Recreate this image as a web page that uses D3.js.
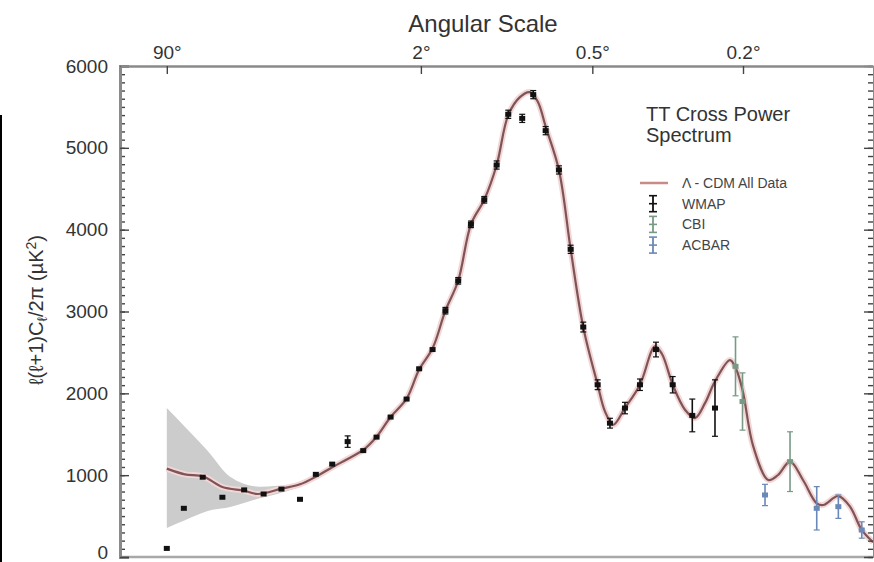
<!DOCTYPE html>
<html>
<head>
<meta charset="utf-8">
<script src="https://cdn.jsdelivr.net/npm/d3@7"></script>
<style>
body { margin: 0; background: #fff; }
svg { display: block; font-family: "Liberation Sans", Arial, sans-serif; }
</style>
</head>
<body>
<div id="grafico"></div>
<script>
// top axis: angular scale (degrees), placed at multipole l = 180 / angle
var angleDegrees = [90, 2, 0.5, 0.2];
var angleLabels = ["90°", "2°", "0.5°", "0.2°"];
var yTicks = [0, 1000, 2000, 3000, 4000, 5000, 6000];

// WMAP binned points (multipole l, l(l+1)Cl/2pi, error)
var wmapL = [2, 3, 4.5, 6.6, 9.7, 13.3, 17.4, 22.6, 27.9, 34.3, 41.3, 49.4, 57.2, 66.4, 78.2, 88.5,
    100.6, 113.3, 127.1, 142.1, 159.1, 176.3, 193.6, 216.1, 235.2, 258.2, 284.6, 309.6, 338.2,
    373.3, 405.4, 447.3, 492.3, 544.0, 602.3, 676.4, 770.6];
var wmapV = [105, 595, 975, 730, 820, 770, 830, 705, 1010, 1135, 1410, 1300, 1465, 1710, 1930, 2300,
    2535, 3010, 3375, 4065, 4365, 4790, 5410, 5360, 5650, 5210, 4730, 3760, 2810,
    2105, 1635, 1820, 2105, 2535, 2105, 1730, 1820];
var wmapErr = [0, 0, 0, 0, 0, 0, 0, 0, 0, 0, 70, 0, 0, 0, 0, 0,
    0, 40, 40, 40, 40, 50, 50, 50, 50, 50, 50, 50, 60,
    60, 60, 70, 70, 90, 100, 200, 345];

var cbiL = [863.9, 897.6, 1153];
var cbiV = [2330, 1900, 1165];
var cbiErr = [360, 350, 365];

var acbarL = [1012.6, 1318.5, 1465, 1637];
var acbarV = [758, 595, 615, 330];
var acbarErr = [130, 265, 143, 100];

// Lambda-CDM model curve
var modelL = [2, 3.07, 4.53, 6.6, 9.7, 12.1, 17.4, 22.6, 27.9, 34.3, 41.3, 49.4, 57.2, 66.4, 78.2,
    88.5, 100.6, 113.3, 127.1, 142.1, 159.1, 176.3, 193.6, 212.3, 229.3, 243.7, 258.2, 284.6,
    309.6, 338.2, 373.3, 392.1, 414.3, 447.3, 492.3, 540.7, 564.5, 602.3, 648, 687.1, 728,
    770.6, 838.1, 866.2, 898.5, 951.5, 1030.3, 1083.9, 1153, 1231.5, 1318.5, 1362, 1465,
    1549.3, 1637.1, 1725.4];
var modelV = [1080, 1010, 985, 855, 810, 770, 835, 888, 981, 1096, 1198, 1308, 1470, 1711, 1935,
    2290, 2550, 3010, 3376, 4065, 4365, 4790, 5400, 5620, 5680, 5560, 5260, 4730,
    3760, 2808, 2106, 1780, 1616, 1821, 2106, 2575, 2480, 2106, 1800, 1698, 1880,
    2146, 2407, 2300, 2030, 1348, 941, 1002, 1165, 941, 656, 635, 745,
    615, 330, 180];

// cosmic variance band at low l
var bandL = [2, 3.07, 4.9, 7.6, 12.5, 16.3, 22.6, 27.9];
var bandHi = [1820, 1593, 1308, 981, 859, 870, 905, 995];
var bandLo = [355, 450, 560, 611, 717, 770, 860, 965];

var colors = {model: "#7e5457", halo: "#f3d6d6", wmap: "#111111", cbi: "#789a85", acbar: "#6a88b8"};

var width = 874,
    height = 562;
var plotLeft = 120, plotRight = 873, plotTop = 66, plotBottom = 557;

var x = d3.scalePow().exponent(0.25).domain([0.5, 1725]).range([plotLeft, plotRight]);
var y = d3.scaleLinear().domain([0, 6000]).range([plotBottom, plotTop]);

var svg = d3.select("#grafico").append("svg")
    .attr("width", width)
    .attr("height", height);

svg.append("clipPath").attr("id", "plot")
    .append("rect")
    .attr("x", plotLeft).attr("y", plotTop)
    .attr("width", plotRight - plotLeft).attr("height", plotBottom - plotTop + 3);

var plot = svg.append("g").attr("clip-path", "url(#plot)");

// grey band
var band = bandL.map(function(l, i) { return {l: l, hi: bandHi[i], lo: bandLo[i]} });
plot.append("path")
    .datum(band)
    .attr("fill", "#cccccc")
    .attr("d", d3.area()
        .x(function(d) { return x(d.l) })
        .y0(function(d) { return y(d.lo) })
        .y1(function(d) { return y(d.hi) })
        .curve(d3.curveMonotoneX));

// model line
var model = modelL.map(function(l, i) { return {l: l, v: modelV[i]} });
var line = d3.line()
    .x(function(d) { return x(d.l) })
    .y(function(d) { return y(d.v) })
    .curve(d3.curveCatmullRom.alpha(0.5));

plot.append("path").datum(model)
    .attr("fill", "none").attr("stroke", colors.halo).attr("stroke-width", 6)
    .attr("d", line);
plot.append("path").datum(model)
    .attr("fill", "none").attr("stroke", colors.model).attr("stroke-width", 2.2)
    .attr("d", line);

// error bar points
function drawPoints(L, V, E, color) {
    var data = L.map(function(l, i) { return {l: l, v: V[i], e: E[i]} });
    var g = plot.append("g");
    var pts = g.selectAll("g").data(data).enter().append("g");
    pts.filter(function(d) { return d.e > 0 })
        .append("line")
        .attr("x1", function(d) { return x(d.l) })
        .attr("x2", function(d) { return x(d.l) })
        .attr("y1", function(d) { return y(d.v - d.e) })
        .attr("y2", function(d) { return y(d.v + d.e) })
        .attr("stroke", color).attr("stroke-width", 1.6);
    [-1, 1].forEach(function(s) {
        pts.filter(function(d) { return d.e > 0 })
            .append("line")
            .attr("x1", function(d) { return x(d.l) - 3 })
            .attr("x2", function(d) { return x(d.l) + 3 })
            .attr("y1", function(d) { return y(d.v + s * d.e) })
            .attr("y2", function(d) { return y(d.v + s * d.e) })
            .attr("stroke", color).attr("stroke-width", 1.2);
    });
    pts.append("rect")
        .attr("x", function(d) { return x(d.l) - 3 })
        .attr("y", function(d) { return y(d.v) - 2.5 })
        .attr("width", 6).attr("height", 5)
        .attr("fill", color);
}
drawPoints(cbiL, cbiV, cbiErr, colors.cbi);
drawPoints(acbarL, acbarV, acbarErr, colors.acbar);
drawPoints(wmapL, wmapV, wmapErr, colors.wmap);

// axes
function styleAxis(g, w) {
    g.select(".domain").attr("stroke", "#8a8a8a").attr("stroke-width", w);
    g.selectAll(".tick line").attr("stroke", "#444").attr("stroke-width", 1.4);
    g.selectAll(".tick text").attr("font-size", 19).attr("fill", "#333")
        .attr("font-family", "Liberation Sans, Arial, sans-serif");
}

svg.append("line")
    .attr("x1", plotLeft).attr("x2", plotRight)
    .attr("y1", y(0)).attr("y2", y(0))
    .attr("stroke", "#a8a8a8").attr("stroke-width", 2.5);

var minor = d3.range(0, 6001, 100);
svg.append("g").attr("transform", "translate(" + plotLeft + ",0)")
    .call(d3.axisLeft(y).tickValues(minor).tickSize(-5).tickFormat(""))
    .call(styleAxis, 3);
var yAxisG = svg.append("g").attr("transform", "translate(" + plotLeft + ",0)")
    .call(d3.axisLeft(y).tickValues(yTicks).tickSize(-9).tickPadding(12).tickFormat(d3.format("d")))
    .call(styleAxis, 3);
// keep the bottom label inside the picture
yAxisG.selectAll(".tick text").filter(function(d) { return d === 0 }).attr("dy", "0.1em");

svg.append("g").attr("transform", "translate(" + plotRight + ",0)")
    .call(d3.axisRight(y).tickValues(minor).tickSize(-5).tickFormat(""))
    .call(styleAxis, 1);
svg.append("g").attr("transform", "translate(" + plotRight + ",0)")
    .call(d3.axisRight(y).tickValues(yTicks).tickSize(-9).tickFormat(""))
    .call(styleAxis, 1);

svg.append("g").attr("transform", "translate(0," + plotTop + ")")
    .call(d3.axisTop(x)
        .tickValues(angleDegrees.map(function(a) { return 180 / a }))
        .tickFormat(function(d, i) { return angleLabels[i] })
        .tickSizeInner(-8).tickSizeOuter(0).tickPadding(7))
    .call(styleAxis, 2.5);

// titles
svg.append("text")
    .attr("x", 483).attr("y", 32)
    .attr("text-anchor", "middle")
    .attr("font-size", 24).attr("fill", "#333")
    .text("Angular Scale");

var ylab = svg.append("text")
    .attr("transform", "translate(43,310) rotate(-90)")
    .attr("text-anchor", "middle")
    .attr("font-size", 20).attr("fill", "#333");
ylab.append("tspan").text("ℓ(ℓ+1)C");
ylab.append("tspan").attr("dy", 4).attr("font-size", 14).text("ℓ");
ylab.append("tspan").attr("dy", -4).text("/2π (µK");
ylab.append("tspan").attr("dy", -7).attr("font-size", 14).text("2");
ylab.append("tspan").attr("dy", 7).text(")");

// legend
var legend = svg.append("g").attr("transform", "translate(646,0)");
legend.append("text").attr("x", 0).attr("y", 121).attr("font-size", 20).attr("fill", "#333").text("TT Cross Power");
legend.append("text").attr("x", 0).attr("y", 142).attr("font-size", 20).attr("fill", "#333").text("Spectrum");

var legendItems = [
    {name: "Λ - CDM All Data", color: colors.model, type: "line"},
    {name: "WMAP", color: colors.wmap, type: "bar"},
    {name: "CBI", color: colors.cbi, type: "bar"},
    {name: "ACBAR", color: colors.acbar, type: "bar"}
];
var item = legend.selectAll(".item").data(legendItems).enter().append("g")
    .attr("class", "item")
    .attr("transform", function(d, i) { return "translate(0," + (183 + i * 20.7) + ")" });
item.filter(function(d) { return d.type === "line" }).append("line")
    .attr("x1", -6).attr("x2", 22).attr("y1", 0).attr("y2", 0)
    .attr("stroke", "#c98a8a").attr("stroke-width", 2.5);
var bars = item.filter(function(d) { return d.type === "bar" });
bars.append("line").attr("x1", 7).attr("x2", 7).attr("y1", -8).attr("y2", 8)
    .attr("stroke", function(d) { return d.color }).attr("stroke-width", 1.8);
[-8, 0, 8].forEach(function(o) {
    bars.append("line").attr("x1", 3).attr("x2", 11).attr("y1", o).attr("y2", o)
        .attr("stroke", function(d) { return d.color }).attr("stroke-width", 1.6);
});
item.append("text")
    .attr("x", 36).attr("y", 5)
    .attr("font-size", 14).attr("fill", "#444")
    .text(function(d) { return d.name });

// stray edge line at the left border
svg.append("line")
    .attr("x1", 1).attr("x2", 1).attr("y1", 115).attr("y2", height)
    .attr("stroke", "#000").attr("stroke-width", 2);
</script>
</body>
</html>
